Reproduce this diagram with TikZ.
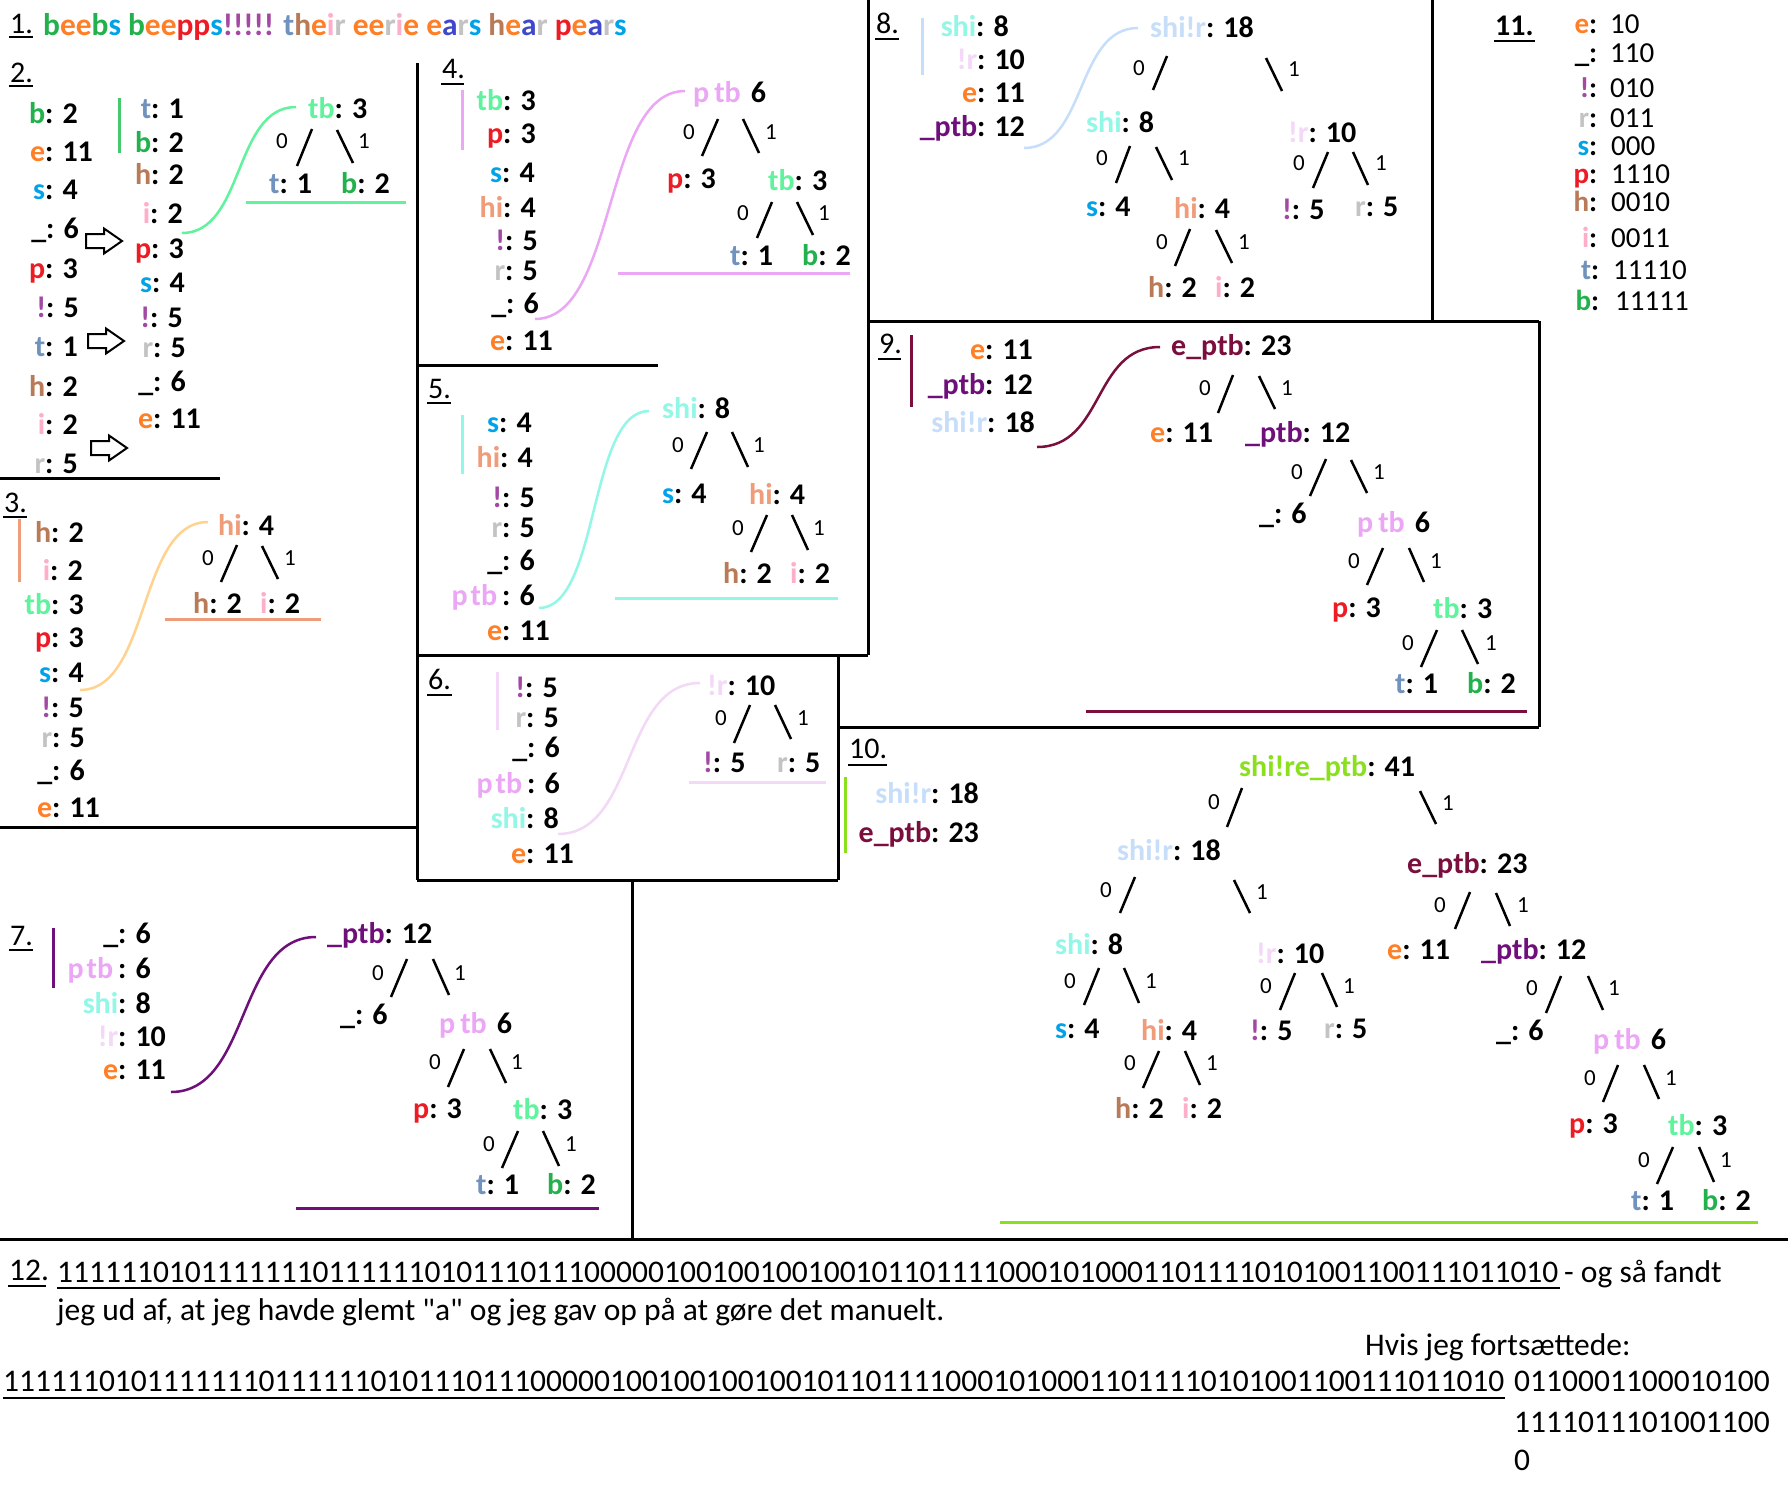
\documentclass[tikz,border=0pt]{standalone}
\usepackage{fontspec}
\setmainfont{Carlito}
\newfontfamily\qfont{Carlito}
\usepackage{xcolor}
\definecolor{cb}{HTML}{22B14C}
\definecolor{ce}{HTML}{FF7F27}
\definecolor{cs}{HTML}{00A2E8}
\definecolor{cp}{HTML}{ED1C24}
\definecolor{cx}{HTML}{A349A4}
\definecolor{ct}{HTML}{7092BE}
\definecolor{ch}{HTML}{B97A57}
\definecolor{ci}{HTML}{FFAEC9}
\definecolor{cr}{HTML}{C3C3C3}
\definecolor{ca}{HTML}{3F48CC}
\definecolor{ctb}{HTML}{5EF39C}
\definecolor{cbar}{HTML}{45C86E}
\definecolor{chi}{HTML}{EF9C7A}
\definecolor{corg}{HTML}{FFD38F}
\definecolor{cptb}{HTML}{EBA6F5}
\definecolor{cshi}{HTML}{92F7E6}
\definecolor{cxr}{HTML}{F3D9F7}
\definecolor{cshixr}{HTML}{C6DEFA}
\definecolor{cuptb}{HTML}{6F0F7A}
\definecolor{ceptb}{HTML}{7A0E3C}
\definecolor{call}{HTML}{8BE01E}
\newcommand\kk[2]{\textcolor{#1}{#2}}
\newcommand\myli[3]{\llap{\textcolor{#1}{#2}}: #3}
\newcommand\mytv[3]{\textcolor{#1}{#2}: #3}
\newcommand\myed[4]{\draw[edg] (#1,#2) -- (#3,#4);}
\newcommand\mycurve[5]{\draw[curv,#1] (#2,#3) .. controls ({#2+0.55*(#4-#2)},#3) and ({#4-0.55*(#4-#2)},#5) .. (#4,#5);}
\newcommand\ptbT{\textcolor{cptb}{p\hspace{5pt}tb}\hspace{10pt}6}
\newcommand\ptbL{\llap{\textcolor{cptb}{p\hspace{3pt}tb}\hspace{5pt}}: 6}
\newcommand\blockarrow[2]{\draw[line width=2pt,fill=white,line join=miter] (#1,{#2-7}) -- ++(18,0) -- ++(0,-5.5) -- ++(18,12.5) -- ++(-18,12.5) -- ++(0,-5.5) -- ++(-18,0) -- cycle;}
\newcommand\binstr{1111110101111111011111101011101110000010010010010010110111100010100011011110101001100111011010}
\tikzset{
 lab/.style={font=\bfseries\fontsize{30}{30}\selectfont, inner sep=0pt, anchor=base west},
 el/.style={font=\fontsize{23}{23}\selectfont, inner sep=0pt, anchor=center},
 sec/.style={font=\fontsize{30}{30}\selectfont, inner sep=0pt, anchor=base west},
 txt/.style={font=\fontsize{31.5}{31.5}\selectfont, inner sep=0pt, anchor=base west},
 cd/.style={font=\fontsize{29}{29}\selectfont, inner sep=0pt, anchor=base west},
 frame/.style={line width=3pt, black},
 edg/.style={line width=2.5pt, black},
 ul/.style={line width=3pt},
 sul/.style={line width=2pt, black},
 curv/.style={line width=2.5pt},
}
\begin{document}
\begin{tikzpicture}[x=1pt,y=-1pt]
\fill[white] (0,0) rectangle (1788,1494);
\useasboundingbox (0,0) rectangle (1788,1494);
% frame
\draw[frame] (0,478) -- (220,478);
\draw[frame] (417,63) -- (417,880);
\draw[frame] (0,827) -- (417,827);
\draw[frame] (418,365) -- (658,365);
\draw[frame] (868,0) -- (868,655);
\draw[frame] (417,655) -- (868,655);
\draw[frame] (838,655) -- (838,880);
\draw[frame] (417,880) -- (838,880);
\draw[frame] (632,880) -- (632,1239);
\draw[frame] (0,1239) -- (1788,1239);
\draw[frame] (1432,0) -- (1432,321);
\draw[frame] (868,321) -- (1539,321);
\draw[frame] (1539,321) -- (1539,727);
\draw[frame] (838,727) -- (1539,727);
% 1
\node[sec] (n1) at (10,33) {1.};
\draw[sul] (9,37) -- (33,37);
\node[lab,font=\bfseries\fontsize{31.4}{31.4}\selectfont] (title) at (43,35) {\kk{cb}{b}\kk{ce}{ee}\kk{cb}{b}\kk{cs}{s} \kk{cb}{b}\kk{ce}{ee}\kk{cp}{pp}\kk{cs}{s}\kk{cx}{!!!!!} \kk{ct}{t}\kk{ch}{h}\kk{ce}{e}\kk{ci}{i}\kk{cr}{r} \kk{ce}{ee}\kk{cr}{r}\kk{ci}{i}\kk{ce}{e} \kk{ce}{e}\kk{ca}{a}\kk{cr}{r}\kk{cs}{s} \kk{ch}{h}\kk{ce}{e}\kk{ca}{a}\kk{cr}{r} \kk{cp}{p}\kk{ce}{e}\kk{ca}{a}\kk{cr}{r}\kk{cs}{s}};
% 2
\node[sec] (n2) at (10,82) {2.};
\draw[sul] (9,86) -- (33,86);
\node[lab] (a1) at (45,123) {\myli{cb}{b}{2}};
\node[lab] (a2) at (45,161) {\myli{ce}{e}{11}};
\node[lab] (a3) at (45,199) {\myli{cs}{s}{4}};
\node[lab] (a4) at (46,238) {\myli{black}{\_}{6}};
\node[lab] (a5) at (45,278) {\myli{cp}{p}{3}};
\node[lab] (a6) at (46,317) {\myli{cx}{!}{5}};
\node[lab] (a7) at (45,356) {\myli{ct}{t}{1}};
\node[lab] (a8) at (45,396) {\myli{ch}{h}{2}};
\node[lab] (a9) at (45,434) {\myli{ci}{i}{2}};
\node[lab] (a10) at (45,473) {\myli{cr}{r}{5}};
\node[lab] (b1) at (151,118) {\myli{ct}{t}{1}};
\node[lab] (b2) at (151,152) {\myli{cb}{b}{2}};
\node[lab] (b3) at (151,184) {\myli{ch}{h}{2}};
\node[lab] (b4) at (150,223) {\myli{ci}{i}{2}};
\node[lab] (b5) at (151,258) {\myli{cp}{p}{3}};
\node[lab] (b6) at (152,292) {\myli{cs}{s}{4}};
\node[lab] (b7) at (150,327) {\myli{cx}{!}{5}};
\node[lab] (b8) at (153,357) {\myli{cr}{r}{5}};
\node[lab] (b9) at (153,391) {\myli{black}{\_}{6}};
\node[lab] (b10) at (153,428) {\myli{ce}{e}{11}};
\draw[ul,cbar] (119,98) -- (119,153);
\blockarrow{86}{241}
\blockarrow{88}{341}
\blockarrow{91}{448}
\node[lab] (t2r) at (308,118) {\mytv{ctb}{tb}{3}};
\node[el] (l2a) at (282,141) {0};
\node[el] (l2b) at (364,141) {1};
\myed{312}{129}{297}{166}
\myed{337}{130}{353}{163}
\node[lab] (t2a) at (269,193) {\mytv{ct}{t}{1}};
\node[lab] (t2b) at (341,193) {\mytv{cb}{b}{2}};
\draw[ul,ctb] (246,202) -- (406,202);
\mycurve{ctb}{182}{233}{296}{107}
% 3
\node[sec] (n3) at (4,512) {3.};
\draw[sul] (3,517) -- (27,517);
\draw[ul,chi] (19,519) -- (19,582);
\node[lab] (c1) at (51,542) {\myli{ch}{h}{2}};
\node[lab] (c2) at (50,580) {\myli{ci}{i}{2}};
\node[lab] (c3) at (51,614) {\myli{ctb}{tb}{3}};
\node[lab] (c4) at (51,647) {\myli{cp}{p}{3}};
\node[lab] (c5) at (51,682) {\myli{cs}{s}{4}};
\node[lab] (c6) at (51,717) {\myli{cx}{!}{5}};
\node[lab] (c7) at (52,747) {\myli{cr}{r}{5}};
\node[lab] (c8) at (52,780) {\myli{black}{\_}{6}};
\node[lab] (c9) at (52,817) {\myli{ce}{e}{11}};
\mycurve{corg}{80}{690}{208}{522}
\node[lab] (t3r) at (218,535) {\mytv{chi}{hi}{4}};
\node[el] (l3a) at (208,558) {0};
\node[el] (l3b) at (290,558) {1};
\myed{237}{545}{221}{582}
\myed{262}{546}{278}{579}
\node[lab] (t3a) at (193,613) {\mytv{ch}{h}{2}};
\node[lab] (t3b) at (260,613) {\mytv{ci}{i}{2}};
\draw[ul,chi] (165,619) -- (321,619);
% 4
\node[sec] (n4) at (442,78) {4.};
\draw[sul] (441,84) -- (464,84);
\draw[ul,cptb] (462,90) -- (462,150);
\node[lab] (d1) at (503,110) {\myli{ctb}{tb}{3}};
\node[lab] (d2) at (503,143) {\myli{cp}{p}{3}};
\node[lab] (d3) at (502,182) {\myli{cs}{s}{4}};
\node[lab] (d4) at (503,217) {\myli{chi}{hi}{4}};
\node[lab] (d5) at (505,250) {\myli{cx}{!}{5}};
\node[lab] (d6) at (505,280) {\myli{cr}{r}{5}};
\node[lab] (d7) at (506,313) {\myli{black}{\_}{6}};
\node[lab] (d8) at (505,350) {\myli{ce}{e}{11}};
\mycurve{cptb}{535}{319}{685}{91}
\node[lab] (t4r) at (693,102) {\ptbT};
\node[el] (l4a) at (689,132) {0};
\node[el] (l4b) at (771,132) {1};
\myed{718}{119}{702}{156}
\myed{743}{119}{759}{153}
\node[lab] (t4a) at (667,188) {\mytv{cp}{p}{3}};
\node[lab] (t4b) at (768,190) {\mytv{ctb}{tb}{3}};
\node[el] (l4c) at (743,213) {0};
\node[el] (l4d) at (824,213) {1};
\myed{772}{202}{757}{238}
\myed{797}{202}{813}{235}
\node[lab] (t4c) at (730,265) {\mytv{ct}{t}{1}};
\node[lab] (t4d) at (802,265) {\mytv{cb}{b}{2}};
\draw[ul,cptb] (618,273) -- (850,273);
% 5
\node[sec] (n5) at (428,398) {5.};
\draw[sul] (427,403) -- (451,403);
\draw[ul,cshi] (462,415) -- (462,474);
\node[lab] (f1) at (499,432) {\myli{cs}{s}{4}};
\node[lab] (f2) at (500,467) {\myli{chi}{hi}{4}};
\node[lab] (f3) at (502,507) {\myli{cx}{!}{5}};
\node[lab] (f4) at (502,537) {\myli{cr}{r}{5}};
\node[lab] (f5) at (502,570) {\myli{black}{\_}{6}};
\node[lab] (f6) at (502,605) {\ptbL};
\node[lab] (f7) at (502,640) {\myli{ce}{e}{11}};
\mycurve{cshi}{539}{608}{649}{411}
\node[lab] (t5r) at (662,418) {\mytv{cshi}{shi}{8}};
\node[el] (l5a) at (678,445) {0};
\node[el] (l5b) at (759,445) {1};
\myed{707}{432}{691}{469}
\myed{732}{432}{748}{467}
\node[lab] (t5a) at (662,503) {\mytv{cs}{s}{4}};
\node[lab] (t5b) at (749,504) {\mytv{chi}{hi}{4}};
\node[el] (l5c) at (738,528) {0};
\node[el] (l5d) at (819,528) {1};
\myed{767}{515}{751}{552}
\myed{792}{515}{808}{550}
\node[lab] (t5c) at (723,583) {\mytv{ch}{h}{2}};
\node[lab] (t5d) at (790,583) {\mytv{ci}{i}{2}};
\draw[ul,cshi] (615,598) -- (838,598);
% 6
\node[sec] (n6) at (428,689) {6.};
\draw[sul] (427,695) -- (452,695);
\draw[ul,cxr] (497,672) -- (497,730);
\node[lab] (g1) at (525,697) {\myli{cx}{!}{5}};
\node[lab] (g2) at (526,727) {\myli{cr}{r}{5}};
\node[lab] (g3) at (527,757) {\myli{black}{\_}{6}};
\node[lab] (g4) at (527,793) {\ptbL};
\node[lab] (g5) at (526,828) {\myli{cshi}{shi}{8}};
\node[lab] (g6) at (526,863) {\myli{ce}{e}{11}};
\mycurve{cxr}{558}{834}{700}{683}
\node[lab] (t6r) at (707,695) {\mytv{cxr}{!r}{10}};
\node[el] (l6a) at (721,718) {0};
\node[el] (l6b) at (803,718) {1};
\myed{750}{705}{734}{743}
\myed{775}{705}{791}{739}
\node[lab] (t6a) at (703,772) {\mytv{cx}{!}{5}};
\node[lab] (t6b) at (777,772) {\mytv{cr}{r}{5}};
\draw[ul,cxr] (689,782) -- (826,782);
% 7
\node[sec] (n7) at (10,945) {7.};
\draw[sul] (9,950) -- (33,950);
\draw[ul,cuptb] (53,928) -- (53,988);
\node[lab] (h1) at (118,943) {\myli{black}{\_}{6}};
\node[lab] (h2) at (118,978) {\ptbL};
\node[lab] (h3) at (118,1013) {\myli{cshi}{shi}{8}};
\node[lab] (h4) at (118,1046) {\myli{cxr}{!r}{10}};
\node[lab] (h5) at (118,1079) {\myli{ce}{e}{11}};
\mycurve{cuptb}{171}{1092}{316}{937}
\node[lab] (t7r) at (327,943) {\mytv{cuptb}{\_ptb}{12}};
\node[el] (l7a) at (378,973) {0};
\node[el] (l7b) at (460,973) {1};
\myed{407}{959}{391}{997}
\myed{433}{959}{449}{995}
\node[lab] (t7a) at (340,1024) {\mytv{black}{\_}{6}};
\node[lab] (t7b) at (439,1033) {\ptbT};
\node[el] (l7c) at (435,1062) {0};
\node[el] (l7d) at (517,1062) {1};
\myed{464}{1049}{448}{1087}
\myed{490}{1049}{506}{1083}
\node[lab] (t7c) at (413,1118) {\mytv{cp}{p}{3}};
\node[lab] (t7d) at (513,1119) {\mytv{ctb}{tb}{3}};
\node[el] (l7e) at (489,1144) {0};
\node[el] (l7f) at (571,1144) {1};
\myed{518}{1131}{502}{1168}
\myed{543}{1131}{559}{1166}
\node[lab] (t7e) at (476,1194) {\mytv{ct}{t}{1}};
\node[lab] (t7f) at (547,1194) {\mytv{cb}{b}{2}};
\draw[ul,cuptb] (296,1208) -- (599,1208);
% 8
\node[sec] (n8) at (876,33) {8.};
\draw[sul] (875,39) -- (899,39);
\draw[ul,cshixr] (922,18) -- (922,75);
\node[lab] (k1) at (976,36) {\myli{cshi}{shi}{8}};
\node[lab] (k2) at (977,69) {\myli{cxr}{!r}{10}};
\node[lab] (k3) at (977,102) {\myli{ce}{e}{11}};
\node[lab] (k4) at (977,136) {\myli{cuptb}{\_ptb}{12}};
\mycurve{cshixr}{1024}{148}{1138}{28}
\node[lab] (t8r) at (1150,37) {\mytv{cshixr}{shi!r}{18}};
\node[el] (l8a) at (1139,68) {0};
\node[el] (l8b) at (1294,69) {1};
\myed{1167}{56}{1153}{90}
\myed{1266}{58}{1282}{91}
\node[lab] (t8a) at (1086,132) {\mytv{cshi}{shi}{8}};
\node[lab] (t8b) at (1288,142) {\mytv{cxr}{!r}{10}};
\node[el] (l8c) at (1102,158) {0};
\node[el] (l8d) at (1184,158) {1};
\myed{1130}{146}{1116}{183}
\myed{1156}{147}{1172}{180}
\node[el] (l8e) at (1299,163) {0};
\node[el] (l8f) at (1381,163) {1};
\myed{1328}{152}{1313}{188}
\myed{1353}{152}{1368}{185}
\node[lab] (t8c) at (1086,216) {\mytv{cs}{s}{4}};
\node[lab] (t8d) at (1174,218) {\mytv{chi}{hi}{4}};
\node[lab] (t8e) at (1282,219) {\mytv{cx}{!}{5}};
\node[lab] (t8f) at (1355,216) {\mytv{cr}{r}{5}};
\node[el] (l8g) at (1162,242) {0};
\node[el] (l8h) at (1244,242) {1};
\myed{1190}{229}{1175}{266}
\myed{1216}{230}{1232}{263}
\node[lab] (t8g) at (1148,297) {\mytv{ch}{h}{2}};
\node[lab] (t8h) at (1215,297) {\mytv{ci}{i}{2}};
% 11
\node[sec,font=\bfseries\fontsize{30}{30}\selectfont] (n11) at (1495,35) {11.};
\draw[line width=2.5pt] (1494,41) -- (1535,41);
\node[cd] (m1) at (1589,33) {\llap{\textbf{\kk{ce}{e}}}\textbf{:}\hspace{13pt}10};
\node[cd] (m2) at (1589,62) {\llap{\textbf{\_}}\textbf{:}\hspace{13pt}110};
\node[cd] (m3) at (1589,97) {\llap{\textbf{\kk{cx}{!}}}\textbf{:}\hspace{13pt}010};
\node[cd] (m4) at (1589,127) {\llap{\textbf{\kk{cr}{r}}}\textbf{:}\hspace{13pt}011};
\node[cd] (m5) at (1589,155) {\llap{\textbf{\kk{cs}{s}}}\textbf{:}\hspace{14pt}000};
\node[cd] (m6) at (1589,183) {\llap{\textbf{\kk{cp}{p}}}\textbf{:}\hspace{14pt}1110};
\node[cd] (m7) at (1589,211) {\llap{\textbf{\kk{ch}{h}}}\textbf{:}\hspace{14pt}0010};
\node[cd] (m8) at (1589,247) {\llap{\textbf{\kk{ci}{i}}}\textbf{:}\hspace{14pt}0011};
\node[cd] (m9) at (1591,279) {\llap{\textbf{\kk{ct}{t}}}\textbf{:}\hspace{14pt}11110};
\node[cd] (m10) at (1591,310) {\llap{\textbf{\kk{cb}{b}}}\textbf{:}\hspace{16pt}11111};
% 9
\node[sec] (n9) at (879,353) {9.};
\draw[sul] (878,359) -- (901,359);
\draw[ul,ceptb] (911,335) -- (911,407);
\node[lab] (p1) at (985,359) {\myli{ce}{e}{11}};
\node[lab] (p2) at (985,394) {\myli{cuptb}{\_ptb}{12}};
\node[lab] (p3) at (987,432) {\myli{cshixr}{shi!r}{18}};
\mycurve{ceptb}{1037}{447}{1160}{347}
\node[lab] (t9r) at (1171,355) {\mytv{ceptb}{e\_ptb}{23}};
\node[el] (l9a) at (1205,388) {0};
\node[el] (l9b) at (1287,388) {1};
\myed{1233}{375}{1218}{413}
\myed{1259}{376}{1275}{409}
\node[lab] (t9a) at (1150,442) {\mytv{ce}{e}{11}};
\node[lab] (t9b) at (1245,442) {\mytv{cuptb}{\_ptb}{12}};
\node[el] (l9c) at (1297,472) {0};
\node[el] (l9d) at (1379,472) {1};
\myed{1326}{459}{1310}{496}
\myed{1351}{460}{1367}{493}
\node[lab] (t9c) at (1259,523) {\mytv{black}{\_}{6}};
\node[lab] (t9d) at (1357,532) {\ptbT};
\node[el] (l9e) at (1354,561) {0};
\node[el] (l9f) at (1436,561) {1};
\myed{1383}{548}{1367}{585}
\myed{1409}{548}{1424}{582}
\node[lab] (t9e) at (1332,617) {\mytv{cp}{p}{3}};
\node[lab] (t9f) at (1433,618) {\mytv{ctb}{tb}{3}};
\node[el] (l9g) at (1408,643) {0};
\node[el] (l9h) at (1491,643) {1};
\myed{1437}{630}{1421}{667}
\myed{1462}{630}{1478}{664}
\node[lab] (t9g) at (1395,693) {\mytv{ct}{t}{1}};
\node[lab] (t9h) at (1467,693) {\mytv{cb}{b}{2}};
\draw[ul,ceptb] (1086,711) -- (1527,711);
% 10
\node[sec] (n10) at (849,758) {10.};
\draw[sul] (848,765) -- (887,765);
\draw[ul,call] (845,777) -- (845,853);
\node[lab] (q1) at (931,803) {\myli{cshixr}{shi!r}{18}};
\node[lab] (q2) at (931,842) {\myli{ceptb}{e\_ptb}{23}};
\node[lab] (u0) at (1239,776) {\mytv{call}{shi!re\_ptb}{41}};
\node[el] (la0) at (1214,802) {0};
\node[el] (la1) at (1448,803) {1};
\myed{1242}{788}{1227}{827}
\myed{1420}{791}{1436}{824}
\node[lab] (u1) at (1117,860) {\mytv{cshixr}{shi!r}{18}};
\node[lab] (u2) at (1407,873) {\mytv{ceptb}{e\_ptb}{23}};
\node[el] (lb0) at (1106,890) {0};
\node[el] (lb1) at (1262,892) {1};
\myed{1135}{877}{1120}{913}
\myed{1234}{880}{1250}{913}
\node[el] (lc0) at (1440,905) {0};
\node[el] (lc1) at (1523,905) {1};
\myed{1470}{892}{1455}{929}
\myed{1496}{893}{1510}{926}
\node[lab] (u3) at (1055,954) {\mytv{cshi}{shi}{8}};
\node[lab] (u4) at (1256,963) {\mytv{cxr}{!r}{10}};
\node[lab] (u5) at (1387,959) {\mytv{ce}{e}{11}};
\node[lab] (u6) at (1481,959) {\mytv{cuptb}{\_ptb}{12}};
\node[el] (ld0) at (1070,981) {0};
\node[el] (ld1) at (1151,981) {1};
\myed{1099}{968}{1084}{1005}
\myed{1124}{968}{1139}{1003}
\node[el] (le0) at (1266,986) {0};
\node[el] (le1) at (1349,986) {1};
\myed{1295}{973}{1280}{1010}
\myed{1322}{973}{1337}{1007}
\node[el] (lf0) at (1532,988) {0};
\node[el] (lf1) at (1614,988) {1};
\myed{1561}{976}{1546}{1013}
\myed{1588}{976}{1603}{1010}
\node[lab] (u7) at (1055,1038) {\mytv{cs}{s}{4}};
\node[lab] (u8) at (1141,1040) {\mytv{chi}{hi}{4}};
\node[lab] (u9) at (1250,1040) {\mytv{cx}{!}{5}};
\node[lab] (u10) at (1324,1038) {\mytv{cr}{r}{5}};
\node[lab] (u11) at (1496,1040) {\mytv{black}{\_}{6}};
\node[lab] (u12) at (1593,1049) {\ptbT};
\node[el] (lg0) at (1130,1063) {0};
\node[el] (lg1) at (1212,1063) {1};
\myed{1159}{1051}{1143}{1088}
\myed{1185}{1051}{1200}{1085}
\node[el] (lh0) at (1590,1078) {0};
\node[el] (lh1) at (1671,1078) {1};
\myed{1618}{1065}{1603}{1102}
\myed{1644}{1065}{1659}{1099}
\node[lab] (u13) at (1115,1118) {\mytv{ch}{h}{2}};
\node[lab] (u14) at (1182,1118) {\mytv{ci}{i}{2}};
\node[lab] (u15) at (1569,1133) {\mytv{cp}{p}{3}};
\node[lab] (u16) at (1668,1135) {\mytv{ctb}{tb}{3}};
\node[el] (li0) at (1644,1160) {0};
\node[el] (li1) at (1726,1160) {1};
\myed{1673}{1147}{1657}{1184}
\myed{1699}{1147}{1714}{1182}
\node[lab] (u17) at (1631,1210) {\mytv{ct}{t}{1}};
\node[lab] (u18) at (1702,1210) {\mytv{cb}{b}{2}};
\draw[ul,call] (1000,1222) -- (1758,1222);
% 12
\node[txt] (n12) at (9,1280) {12.};
\draw[sul] (8,1286) -- (46,1286);
\node[txt] (bin1) at (57,1282) {\binstr};
\draw[line width=2.5pt] (57,1288) -- (1560,1288);
\node[txt] (og) at (1564,1282) {- og så fandt};
\node[txt] (jeg) at (57,1320) {jeg ud af, at jeg havde glemt {\qfont"}a{\qfont"} og jeg gav op på at gøre det manuelt.};
\node[txt] (hvis) at (1365,1355) {Hvis jeg fortsættede:};
\node[txt] (bin2) at (3,1391) {\binstr};
\draw[line width=2.5pt] (3,1398) -- (1505,1398);
\node[txt] (r1) at (1514,1391) {0110001100010100};
\node[txt] (r2) at (1514,1432) {1111011101001100};
\node[txt] (r3) at (1514,1470) {0};
\end{tikzpicture}
\end{document}
